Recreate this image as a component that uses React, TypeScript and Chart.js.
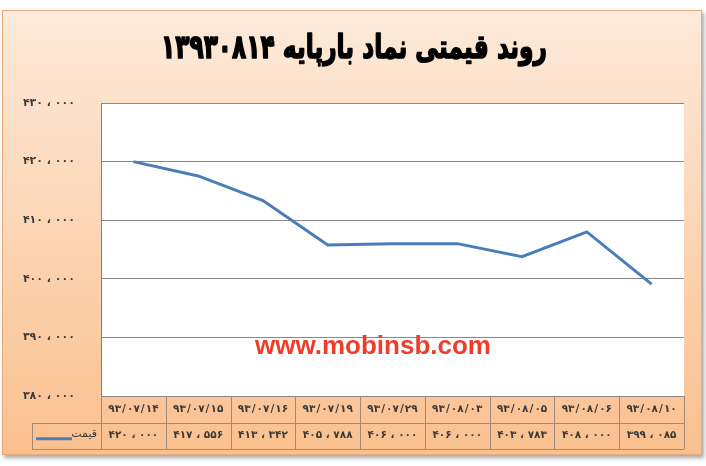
import { useEffect, useRef } from "react";
import { Chart, registerables } from "chart.js";

Chart.register(...registerables);

const titleText = "روند قیمتی نماد بارپایه ۱۳۹۳۰۸۱۴";
const seriesName = "قیمت";
const watermark = "www.mobinsb.com";
const dates = ["93/07/14", "93/07/15", "93/07/16", "93/07/19", "93/07/29", "93/08/03", "93/08/05", "93/08/06", "93/08/10"];
const prices = [420000, 417556, 413342, 405788, 406000, 406000, 403783, 408000, 399085];
const yTicks = [380000, 390000, 400000, 410000, 420000, 430000];

const FA = "۰۱۲۳۴۵۶۷۸۹";
const toFa = (s: string) => s.replace(/[0-9]/g, (d) => FA[Number(d)]);
const fmt = (v: number) => {
  const s = Math.round(v).toString();
  const parts: string[] = [];
  for (let i = s.length; i > 0; i -= 3) parts.unshift(s.slice(Math.max(0, i - 3), i));
  return toFa(parts.join(" ، "));
};
const fmtDate = (d: string) => toFa(d.split("/").join("\u200A/\u200A"));

const FONT = "'DejaVu Sans', sans-serif";

const decor = {
  id: "decor",
  beforeDraw(chart: any) {
    const { ctx, width, height, chartArea } = chart;
    ctx.save();
    ctx.fillStyle = "#ffffff";
    ctx.fillRect(0, 0, width, height);
    const fx = 2, fy = 10, fw = 700, fh = 445;
    ctx.shadowColor = "rgba(0,0,0,0.35)";
    ctx.shadowBlur = 4;
    ctx.shadowOffsetX = 2;
    ctx.shadowOffsetY = 3;
    const g = ctx.createLinearGradient(0, fy, 0, fy + fh);
    g.addColorStop(0, "#FDEADA");
    g.addColorStop(1, "#FAC08F");
    ctx.fillStyle = g;
    ctx.fillRect(fx, fy, fw, fh);
    ctx.shadowColor = "transparent";
    ctx.strokeStyle = "#E8A878";
    ctx.lineWidth = 1;
    ctx.strokeRect(fx + 0.5, fy + 0.5, fw - 1, fh - 1);
    ctx.fillStyle = "#ffffff";
    ctx.fillRect(chartArea.left, chartArea.top, chartArea.right - chartArea.left, chartArea.bottom - chartArea.top);
    // title
    ctx.fillStyle = "#000000";
    ctx.strokeStyle = "#000000";
    ctx.lineWidth = 1.6;
    ctx.lineJoin = "round";
    ctx.font = `bold 33px ${FONT}`;
    ctx.textAlign = "center";
    ctx.textBaseline = "middle";
    const w = ctx.measureText(titleText).width;
    const sx = 386 / w;
    ctx.translate(354, 49);
    ctx.scale(sx, 1);
    ctx.fillText(titleText, 0, 0);
    ctx.strokeText(titleText, 0, 0);
    ctx.restore();
  },
  afterDraw(chart: any) {
    const { ctx, chartArea } = chart;
    const xs = chart.scales.x;
    const n = dates.length;
    const centers = dates.map((_, i) => xs.getPixelForValue(i));
    const step = n > 1 ? centers[1] - centers[0] : chartArea.right - chartArea.left;
    const bounds = [centers[0] - step / 2, ...centers.map((c) => c + step / 2)];
    const top = chartArea.bottom;
    const rowH = 26.5;
    const legendLeft = 32;
    ctx.save();
    ctx.strokeStyle = "#9C8A7A";
    ctx.lineWidth = 1;
    ctx.beginPath();
    const px = (v: number) => Math.round(v) + 0.5;
    bounds.forEach((b) => {
      ctx.moveTo(px(b), top);
      ctx.lineTo(px(b), top + rowH * 2);
    });
    ctx.moveTo(legendLeft, px(top + rowH));
    ctx.lineTo(bounds[n], px(top + rowH));
    ctx.moveTo(legendLeft, px(top + rowH * 2));
    ctx.lineTo(bounds[n], px(top + rowH * 2));
    ctx.moveTo(px(legendLeft), px(top + rowH));
    ctx.lineTo(px(legendLeft), px(top + rowH * 2));
    ctx.stroke();

    ctx.fillStyle = "#3A3A3A";
    ctx.font = `bold 10.5px ${FONT}`;
    ctx.textAlign = "center";
    ctx.textBaseline = "middle";
    dates.forEach((d, i) => {
      ctx.fillText(fmtDate(d), centers[i], top + rowH / 2);
      ctx.fillText(fmt(prices[i]), centers[i], top + rowH * 1.5);
    });
    // legend cell
    ctx.font = `11px ${FONT}`;
    ctx.textAlign = "right";
    ctx.fillText(seriesName, bounds[0] - 4, top + rowH * 1.5 - 2);
    ctx.strokeStyle = "#4A7EBB";
    ctx.lineWidth = 3;
    ctx.beginPath();
    ctx.moveTo(legendLeft + 4, top + rowH * 1.5 + 3);
    ctx.lineTo(legendLeft + 40, top + rowH * 1.5 + 3);
    ctx.stroke();

    // watermark
    ctx.fillStyle = "#EF3D2C";
    ctx.font = "bold 26px 'Liberation Sans', Arial, sans-serif";
    ctx.textAlign = "center";
    ctx.textBaseline = "middle";
    ctx.fillText(watermark, 373, 347);
    ctx.restore();
  },
};

export default function App() {
  const ref = useRef<HTMLCanvasElement | null>(null);
  useEffect(() => {
    if (!ref.current) return;
    const chart = new Chart(ref.current, {
      type: "line",
      data: {
        labels: dates.map(toFa),
        datasets: [
          {
            label: seriesName,
            data: prices,
            borderColor: "#4A7EBB",
            borderWidth: 3,
            pointRadius: 0,
            tension: 0,
            fill: false,
          },
        ],
      },
      options: {
        responsive: false,
        animation: false,
        devicePixelRatio: 1,
        layout: { padding: { left: 0, right: 22, top: 103, bottom: 70 } },
        plugins: { legend: { display: false }, title: { display: false }, tooltip: { enabled: false } },
        scales: {
          x: { display: false, offset: true },
          y: {
            min: yTicks[0],
            max: yTicks[yTicks.length - 1],
            afterFit: (s: any) => {
              s.width = 101;
            },
            ticks: {
              stepSize: yTicks[1] - yTicks[0],
              padding: 26,
              color: "#3A3A3A",
              font: { family: "DejaVu Sans", size: 11, weight: "bold" },
              callback: (v: any) => fmt(Number(v)),
            },
            grid: { color: "#878787", lineWidth: 1, drawTicks: false },
            border: { display: true, color: "#8A7E74", width: 1 },
          },
        },
      },
      plugins: [decor],
    });
    return () => chart.destroy();
  }, []);
  return (
    <div style={{ position: "fixed", left: 0, top: 0, width: 706, height: 466 }}>
      <canvas ref={ref} width={706} height={466} />
    </div>
  );
}
